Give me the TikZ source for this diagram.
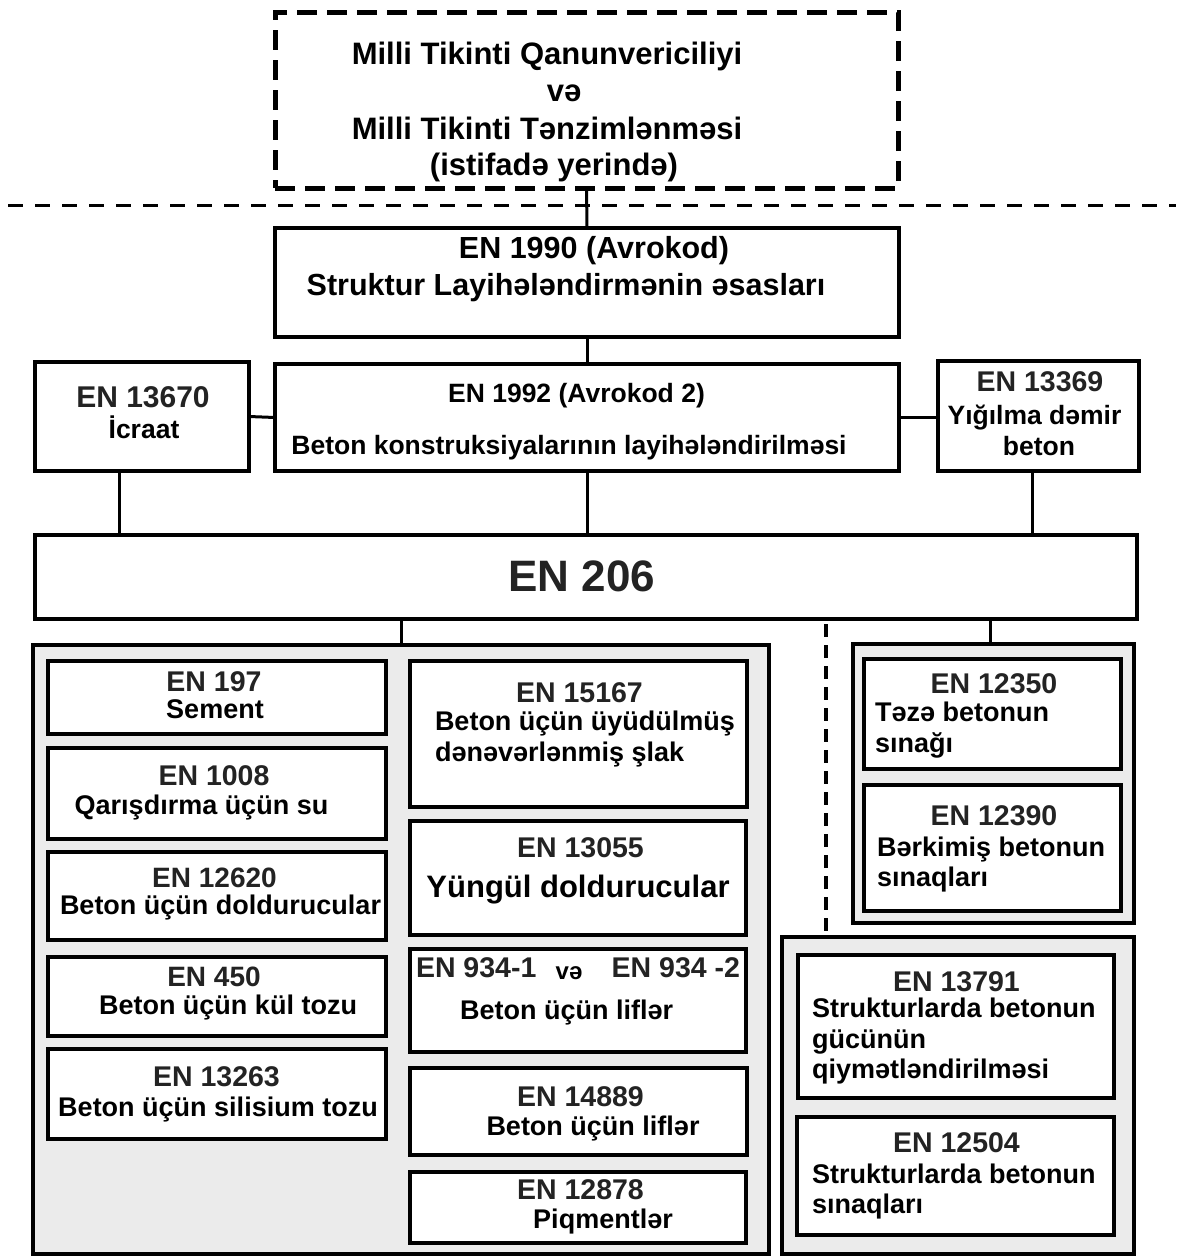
\documentclass[tikz,border=0pt]{standalone}
\usepackage{fontspec}
\setmainfont{Liberation Sans}
\definecolor{grp}{RGB}{235,235,235}
\definecolor{ttl}{RGB}{35,35,35}
\tikzset{
  box/.style={draw=black, line width=4.5pt, fill=white, inner sep=0pt, outer sep=0pt},
  grpbox/.style={draw=black, line width=4pt, fill=grp, inner sep=0pt, outer sep=0pt},
  topbox/.style={draw=black, line width=5pt, dash pattern=on 20pt off 10pt, inner sep=0pt, outer sep=0pt},
  conn/.style={line width=3pt},
  hdash/.style={line width=3pt, dash pattern=on 15pt off 12pt},
  vdash/.style={line width=3.5pt, dash pattern=on 13pt off 8pt},
  tc/.style={font=\bfseries\fontsize{#1}{#1}\selectfont, inner sep=0pt, outer sep=0pt, anchor=base, yshift={-0.36*#1pt}},
  tl/.style={tc=#1, anchor=base west},
  tr/.style={tc=#1, anchor=base east},
  ttlc/.style={tc=#1, text=ttl},
}
\newcommand\mkbox[6]{\node[#1, minimum width={#5-#3}, minimum height={#6-#4}] (#2) at ({(#3+#5)/2},{(#4+#6)/2}) {};}
\begin{document}
\begin{tikzpicture}[x=1pt, y=-1pt]
\useasboundingbox (0,0) rectangle (1179,1258);
% groups
\mkbox{grpbox}{lgrp}{33}{645}{769}{1254}
\mkbox{grpbox}{rgrp}{853}{644}{1134}{923}
\mkbox{grpbox}{rlgrp}{782}{937}{1134}{1254}
% top structure
\mkbox{topbox}{top}{275}{12}{898}{188}
\mkbox{box}{en1990}{275}{228}{899}{337}
\mkbox{box}{en1992}{275}{364}{899}{471}
\mkbox{box}{en13670}{35}{362}{249}{471}
\mkbox{box}{en13369}{938}{361}{1139}{471}
\mkbox{box}{en206}{35}{535}{1137}{619}
% left column
\mkbox{box}{en197}{48}{661}{386}{734}
\mkbox{box}{en1008}{48}{748}{386}{839}
\mkbox{box}{en12620}{48}{852}{386}{940}
\mkbox{box}{en450}{48}{957}{386}{1036}
\mkbox{box}{en13263}{48}{1049}{386}{1139}
% middle column
\mkbox{box}{en15167}{410}{661}{747}{807}
\mkbox{box}{en13055}{410}{821}{746}{935}
\mkbox{box}{en934}{410}{949}{746}{1052}
\mkbox{box}{en14889}{410}{1068}{747}{1155}
\mkbox{box}{en12878}{410}{1172}{746}{1243}
% right
\mkbox{box}{en12350}{864}{659}{1121}{769}
\mkbox{box}{en12390}{864}{785}{1121}{911}
\mkbox{box}{en13791}{798}{955}{1114}{1098}
\mkbox{box}{en12504}{797}{1117}{1114}{1235}
% dashed separator
\coordinate (sepl) at (8,205);
\coordinate (sepr) at (1176,205);
\draw[hdash] (sepl) -- (sepr);
% connectors
\draw[conn] (top.south) -- (en1990.north);
\draw[conn] (en1990.south) -- (en1992.north);
\draw[conn] (en13670.east) -- (en1992.west);
\draw[conn] (en1992.east) -- (en1992.east -| en13369.west);
\draw[conn] ([xshift=84pt]en13670.south west) -- ([xshift=84pt]en13670.south west |- en206.north);
\draw[conn] (en1992.south) -- (en1992.south |- en206.north);
\draw[conn] ([xshift=-6pt]en13369.south) -- ([xshift=-6pt]en13369.south |- en206.north);
\draw[conn] (lgrp.north |- en206.south) -- (lgrp.north);
\draw[conn] ([xshift=-3pt]rgrp.north |- en206.south) -- ([xshift=-3pt]rgrp.north);
\coordinate (dtop) at (826,624);
\draw[vdash] (dtop) -- (dtop |- rlgrp.north);
% texts top
\node[tc=31] (l1) at (547,53) {Milli Tikinti Qanunvericiliyi};
\node[tc=31] (l2) at (564,90) {və};
\node[tc=31] (l3) at (547,128) {Milli Tikinti Tənzimlənməsi};
\node[tc=31] (l4) at (554,164) {(istifadə yerində)};
\node[tc=30.5] (a1) at (594,248) {EN 1990 (Avrokod)};
\node[tc=30.5] (a2) at (566,285) {Struktur Layihələndirmənin əsasları};
\node[tc=26.5] (b1) at (576.5,393) {EN 1992 (Avrokod 2)};
\node[tc=26.5] (b2) at (569,445) {Beton konstruksiyalarının layihələndirilməsi};
\node[ttlc=30] (c1) at (143,397) {EN 13670};
\node[tc=26.5] (c2) at (144,429) {İcraat};
\node[ttlc=28.5] (d1) at (1040,381) {EN 13369};
\node[tc=26.5] (d2) at (1034.5,415) {Yığılma dəmir};
\node[tc=26.5] (d3) at (1039,446) {beton};
\node[ttlc=44] (e1) at (582,576) {EN 206};
% left column texts
\node[ttlc=28.5] (f1) at (214,681) {EN 197};
\node[tc=27] (f2) at (215,709) {Sement};
\node[ttlc=28.5] (g1) at (214,775.5) {EN 1008};
\node[tc=27] (g2) at (201.5,805) {Qarışdırma üçün su};
\node[ttlc=28] (h1) at (214.5,877) {EN 12620};
\node[tl=27] (h2) at (60,905) {Beton üçün doldurucular};
\node[ttlc=28] (i1) at (214,976) {EN 450};
\node[tc=27] (i2) at (228,1005) {Beton üçün kül tozu};
\node[ttlc=28.5] (j1) at (216.5,1076) {EN 13263};
\node[tc=27] (j2) at (218,1107) {Beton üçün silisium tozu};
% middle column texts
\node[ttlc=28.5] (k1) at (579.5,692) {EN 15167};
\node[tl=27] (k2) at (435,721) {Beton üçün üyüdülmüş};
\node[tl=27] (k3) at (435,751.5) {dənəvərlənmiş şlak};
\node[ttlc=28.5] (m1) at (580.5,847) {EN 13055};
\node[tc=31] (m2) at (578,886) {Yüngül doldurucular};
\node[tl=28.5, text=ttl] (n1) at (416,967) {EN 934-1};
\node[tc=24] (n2) at (569,971) {və};
\node[tr=28.5, text=ttl] (n3) at (740,967) {EN 934 -2};
\node[tc=27] (n4) at (566.7,1009.5) {Beton üçün liflər};
\node[ttlc=28.5] (o1) at (580.5,1096) {EN 14889};
\node[tc=27] (o2) at (593,1126) {Beton üçün liflər};
\node[ttlc=28.5] (p1) at (580.5,1189) {EN 12878};
\node[tc=27] (p2) at (603,1219) {Piqmentlər};
% right texts
\node[ttlc=28.5] (q1) at (994,683) {EN 12350};
\node[tl=27] (q2) at (875,712) {Təzə betonun};
\node[tl=27] (q3) at (875,743) {sınağı};
\node[ttlc=28.5] (r1) at (994,815) {EN 12390};
\node[tl=27] (r2) at (877,846.5) {Bərkimiş betonun};
\node[tl=27] (r3) at (877,877) {sınaqları};
\node[ttlc=28.5] (s1) at (956.5,981) {EN 13791};
\node[tl=27] (s2) at (812,1008) {Strukturlarda betonun};
\node[tl=27] (s3) at (812,1039) {gücünün};
\node[tl=27] (s4) at (812,1069) {qiymətləndirilməsi};
\node[ttlc=28.5] (u1) at (956.5,1142.5) {EN 12504};
\node[tl=27] (u2) at (812,1173.5) {Strukturlarda betonun};
\node[tl=27] (u3) at (812,1204) {sınaqları};
\end{tikzpicture}
\end{document}
